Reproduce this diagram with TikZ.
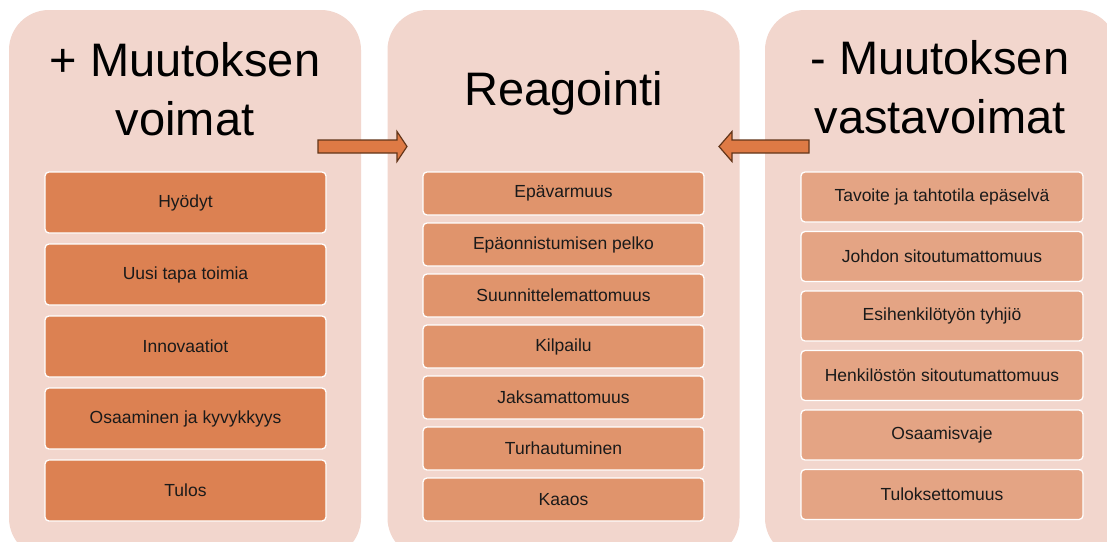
\documentclass[tikz,border=0pt]{standalone}
\usepackage{fontspec}
\setmainfont{Liberation Sans}
\definecolor{panelbg}{HTML}{F2D6CD}
\definecolor{plusbox}{HTML}{DC8152}
\definecolor{reactbox}{HTML}{E0946C}
\definecolor{minusbox}{HTML}{E4A484}
\definecolor{arrowfill}{HTML}{DE7A45}
\definecolor{arrowedge}{HTML}{633519}
\definecolor{ink}{HTML}{1A1A1A}
\begin{document}
\begin{tikzpicture}[x=1pt,y=-1pt,
    panel/.style={fill=panelbg,rounded corners=40pt,minimum width=352pt,minimum height=548pt,inner sep=0pt},
    item/.style={draw=white,line width=1.3pt,rounded corners=4pt,text=ink,minimum width=281pt,inner sep=0pt,font=\fontsize{17.5}{20}\selectfont},
    title/.style={align=center,inner sep=0pt,text=black,font=\fontsize{47}{59}\selectfont},
    blockarrow/.style={fill=arrowfill,draw=arrowedge,line width=1.2pt,line join=miter}]
    \useasboundingbox (0,0) rectangle (1107,541);
    \fill[white] (0,0) rectangle (1107,541);
    \begin{scope}
    \clip (0,0) rectangle (1107,541);
    \node[panel] (plus) at (185,284) {};
    \node[panel] (react) at (563.5,284) {};
    \node[panel] (minus) at (941,284) {};
    \end{scope}
    \node[title,anchor=base] (plustitle) at (185,135) {+ Muutoksen\\voimat};
    \node[title,anchor=base] (reacttitle) at (563.5,105) {Reagointi};
    \node[title,anchor=base] (minustitle) at (940,133) {- Muutoksen\\vastavoimat};
    \foreach \txt [count=\i] in {Hyödyt,Uusi tapa toimia,Innovaatiot,Osaaminen ja kyvykkyys,Tulos}
        \node[item,fill=plusbox,minimum height=61pt] (plus\i) at (185.5,{130.5+72*\i}) {\txt};
    \foreach \txt [count=\i] in {Epävarmuus,Epäonnistumisen pelko,Suunnittelemattomuus,Kilpailu,Jaksamattomuus,Turhautuminen,Kaaos}
        \node[item,fill=reactbox,minimum height=43pt] (react\i) at (563.5,{142.5+51*\i}) {\txt};
    \foreach \txt [count=\i] in {Tavoite ja tahtotila epäselvä,Johdon sitoutumattomuus,Esihenkilötyön tyhjiö,Henkilöstön sitoutumattomuus,Osaamisvaje,Tuloksettomuus}
        \node[item,fill=minusbox,minimum width=282pt,minimum height=50pt] (minus\i) at (942,{137.5+59.5*\i}) {\txt};
    \draw[blockarrow] (318,140) -- (397,140) -- (397,131.5) -- (407,146.5) -- (397,161.5) -- (397,153) -- (318,153) -- cycle;
    \draw[blockarrow] (809,140) -- (732,140) -- (732,131.5) -- (719,146.5) -- (732,161.5) -- (732,153) -- (809,153) -- cycle;
\end{tikzpicture}
\end{document}
